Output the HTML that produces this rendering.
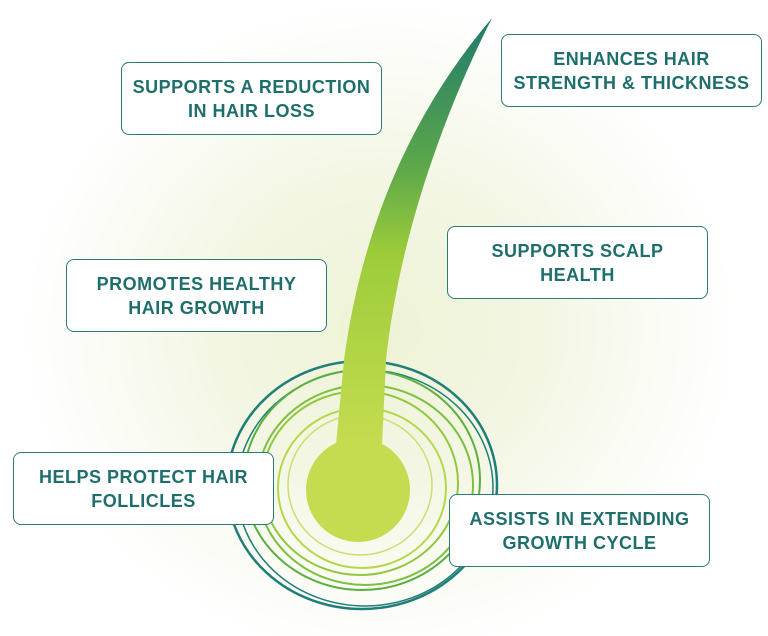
<!DOCTYPE html>
<html><head><style>
body{margin:0;width:768px;height:636px;overflow:hidden;background:#fff;font-family:"Liberation Sans",sans-serif}
.bg{position:absolute;left:0;top:0;width:768px;height:636px;background:radial-gradient(ellipse 360px 330px at 380px 330px,#eef3d6 0%,#f3f6e3 45%,#fbfcf6 80%,#fff 100%)}
.b{position:absolute;width:259px;height:71px;border:1.5px solid #2a7b76;border-radius:8px;background:#fff;display:flex;align-items:center;justify-content:center;text-align:center;color:#1e6f6c;font-weight:bold;font-size:18px;line-height:24px;letter-spacing:0.5px}
svg{position:absolute;left:0;top:0}
</style></head><body>
<div class="bg"></div>
<svg width="768" height="636">
<defs><linearGradient id="h" x1="0" y1="0" x2="0" y2="1"><stop offset="0" stop-color="#1f7a6c"/><stop offset="0.35" stop-color="#5da84a"/><stop offset="0.55" stop-color="#9ccc3a"/><stop offset="1" stop-color="#c5dc50"/></linearGradient></defs>
<g fill="none">
<ellipse cx="362" cy="485" rx="135" ry="124" stroke="#1f7f78" stroke-width="2.5"/>
<ellipse cx="365" cy="488" rx="128" ry="118" stroke="#1f7f78" stroke-width="1.5"/>
<ellipse cx="362" cy="480" rx="118" ry="110" stroke="#5cb040" stroke-width="2"/>
<ellipse cx="365" cy="485" rx="108" ry="100" stroke="#7cc040" stroke-width="2"/>
<ellipse cx="360" cy="483" rx="98" ry="92" stroke="#8fc83a" stroke-width="2"/>
<ellipse cx="362" cy="488" rx="84" ry="80" stroke="#b4d84a" stroke-width="2"/>
<ellipse cx="360" cy="485" rx="72" ry="70" stroke="#c8e070" stroke-width="1.5"/>
</g>
<path d="M492,18 C448,105 400,230 386,360 L382,445 L336,445 L344,360 C360,240 405,120 492,18Z" fill="url(#h)"/>
<circle cx="358" cy="490" r="52" fill="#c5dc50"/>
</svg>
<div class="b" style="left:121px;top:62px">SUPPORTS A REDUCTION<br>IN HAIR LOSS</div>
<div class="b" style="left:501px;top:34px">ENHANCES HAIR<br>STRENGTH &amp; THICKNESS</div>
<div class="b" style="left:447px;top:226px">SUPPORTS SCALP<br>HEALTH</div>
<div class="b" style="left:66px;top:259px">PROMOTES HEALTHY<br>HAIR GROWTH</div>
<div class="b" style="left:13px;top:452px">HELPS PROTECT HAIR<br>FOLLICLES</div>
<div class="b" style="left:449px;top:494px">ASSISTS IN EXTENDING<br>GROWTH CYCLE</div>
</body></html>
